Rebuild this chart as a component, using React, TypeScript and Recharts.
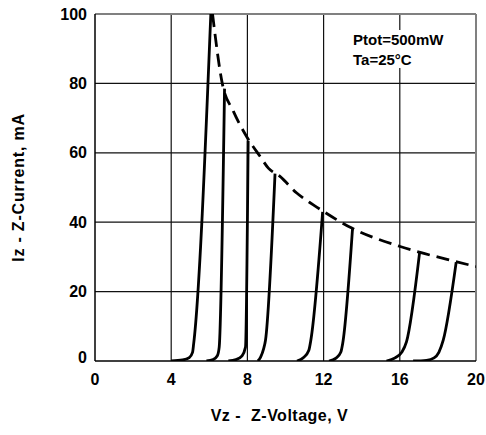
import React from "react";
import { Line, LineChart, ReferenceLine, XAxis, YAxis } from "recharts";

// Each curve is a list of [Vz (V), Iz (mA)] points.
const zener1: [number, number][] = [[4.0, 0], [4.6, 0.3], [4.95, 1.0], [5.12, 2.5], [5.18, 5], [6.08, 100]];
const zener2: [number, number][] = [[5.85, 0], [6.2, 0.4], [6.42, 1.5], [6.52, 4], [6.8, 78.5]];
const zener3: [number, number][] = [[7.0, 0], [7.4, 0.4], [7.72, 1.5], [7.9, 4], [8.04, 63.5]];
const zener4: [number, number][] = [[8.55, 0], [8.7, 1.2], [8.85, 3.5], [8.95, 6], [9.45, 54]];
const zener5: [number, number][] = [[10.6, 0], [10.95, 1.0], [11.22, 3], [11.33, 6], [11.95, 43]];
const zener6: [number, number][] = [[12.28, 0], [12.65, 0.8], [12.9, 2.5], [13.0, 5], [13.52, 38.3]];
const zener7: [number, number][] = [[15.3, 0], [15.75, 0.9], [16.1, 2.5], [16.35, 5.5], [17.04, 31.3]];
const zener8: [number, number][] = [[16.7, 0], [17.4, 0.2], [17.8, 0.9], [18.05, 2.5], [18.28, 6], [18.96, 28.5]];

// Ptot = 500 mW limit (dashed)
const ptotLimit: [number, number][] = [
  [6.17, 100], [6.68, 80], [7.26, 72], [7.98, 64.5], [8.66, 59], [9.1, 55.6], [9.71, 53.2],
  [10.59, 48.4], [11.46, 45], [11.99, 43.1], [13.48, 38.3], [16.02, 33.0], [17.07, 31.3],
  [18.91, 28.7], [20, 27.2],
];

const xTicks = [0, 4, 8, 12, 16, 20];
const yTicks = [0, 20, 40, 60, 80, 100];
const xGrid = [4, 8, 12, 16];
const yGrid = [20, 40, 60, 80];

const zenerCurves = [zener1, zener2, zener3, zener4, zener5, zener6, zener7, zener8];

const FONT = "'Liberation Sans', Arial, sans-serif";

const toRows = (pts: [number, number][]) => pts.map(([v, i]) => ({ v, i }));

function YTick({ x, y, payload }: any) {
  return (
    <text
      x={x}
      y={y + (payload.value === 0 ? -4 : 0)}
      textAnchor="end"
      dominantBaseline="central"
      fontFamily={FONT}
      fontWeight={700}
      fontSize={16}
      fill="#000"
    >
      {payload.value}
    </text>
  );
}

function XTick({ x, y, payload }: any) {
  return (
    <text
      x={x}
      y={y + 10}
      textAnchor="middle"
      dominantBaseline="central"
      fontFamily={FONT}
      fontWeight={700}
      fontSize={16}
      fill="#000"
    >
      {payload.value}
    </text>
  );
}

function XTitle({ viewBox }: any) {
  const { x, y, width } = viewBox;
  return (
    <text
      x={x + width / 2 - 6}
      y={y + 60}
      textAnchor="middle"
      fontFamily={FONT}
      fontWeight={700}
      fontSize={16}
      letterSpacing={0.5}
      style={{ whiteSpace: "pre" }}
      fill="#000"
    >
      Vz -  Z-Voltage, V
    </text>
  );
}

function YTitle({ viewBox }: any) {
  const { x, y, height } = viewBox;
  const cx = x + 18;
  const cy = y + height / 2;
  return (
    <text
      x={cx}
      y={cy}
      transform={`rotate(-90 ${cx} ${cy})`}
      textAnchor="middle"
      dominantBaseline="central"
      fontFamily={FONT}
      fontWeight={700}
      fontSize={16}
      letterSpacing={0.8}
      fill="#000"
    >
      Iz - Z-Current, mA
    </text>
  );
}

export default function App() {
  return (
    <div style={{ position: "absolute", left: 0, top: 0, width: 486, height: 435, background: "#fff" }}>
      <LineChart width={486} height={435} margin={{ top: 14, right: 10, bottom: 0, left: 0 }}>
        <XAxis
          type="number"
          dataKey="v"
          domain={[0, 20]}
          ticks={xTicks}
          height={74}
          tickLine={false}
          tickSize={6}
          tickMargin={2}
          axisLine={{ stroke: "#000", strokeWidth: 1.5 }}
          tick={<XTick />}
          label={<XTitle />}
          allowDataOverflow
        />
        <YAxis
          type="number"
          domain={[0, 100]}
          ticks={yTicks}
          width={95}
          tickLine={false}
          tickSize={6}
          tickMargin={2}
          axisLine={{ stroke: "#000", strokeWidth: 1.5 }}
          tick={<YTick />}
          label={<YTitle />}
          allowDataOverflow
        />
        {yGrid.map((g) => (
          <ReferenceLine key={`y${g}`} y={g} stroke="#111" strokeWidth={1.2} />
        ))}
        {xGrid.map((g) => (
          <ReferenceLine key={`x${g}`} x={g} stroke="#111" strokeWidth={1.2} />
        ))}
        <ReferenceLine y={100} stroke="#808080" strokeWidth={2} />
        <ReferenceLine x={20} stroke="#808080" strokeWidth={2} />
        {zenerCurves.map((c, idx) => (
          <Line
            key={idx}
            data={toRows(c)}
            dataKey="i"
            type="monotone"
            stroke="#000"
            strokeWidth={2.8}
            dot={false}
            activeDot={false}
            isAnimationActive={false}
          />
        ))}
        <Line
          data={toRows(ptotLimit)}
          dataKey="i"
          type="monotone"
          stroke="#000"
          strokeWidth={2.8}
          strokeDasharray="13 7"
          dot={false}
          activeDot={false}
          isAnimationActive={false}
        />
      </LineChart>
      <div
        style={{
          position: "absolute",
          left: 353,
          top: 30,
          width: 100,
          height: 38,
          background: "#fff",
          fontFamily: FONT,
          fontWeight: 700,
          fontSize: 15,
          lineHeight: "20px",
          color: "#000",
        }}
      >
        <div>Ptot=500mW</div>
        <div>Ta=25°C</div>
      </div>
    </div>
  );
}
